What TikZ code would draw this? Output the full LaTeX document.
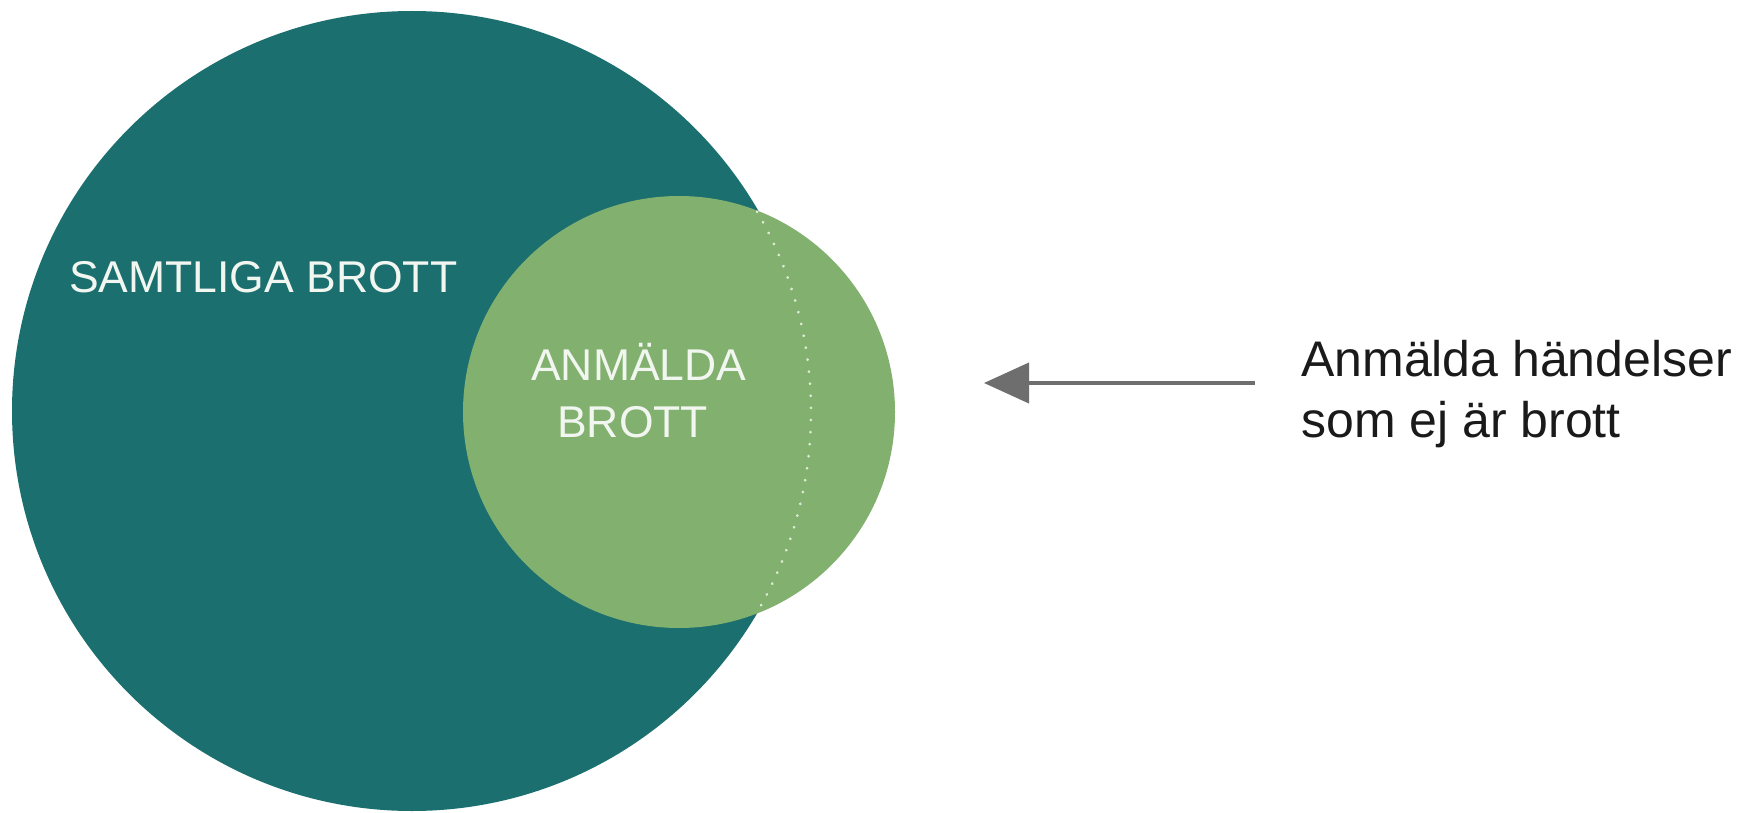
\documentclass[tikz,border=0pt]{standalone}
\usepackage{fontspec}
\setmainfont{Liberation Sans}
\usetikzlibrary{arrows.meta}
\definecolor{bigteal}{HTML}{1B6F6F}
\definecolor{smallgreen}{HTML}{82B06E}
\definecolor{arrowgray}{HTML}{6E6E6E}
\definecolor{dotcol}{HTML}{DCEBD5}
\definecolor{labelwhite}{HTML}{F2F6F0}
\definecolor{textblack}{HTML}{1A1A1A}
\tikzset{
  disc/.style={circle, inner sep=0pt, draw=none},
  inlabel/.style={anchor=base west, inner sep=0pt, text=labelwhite, font=\fontsize{44.5}{44.5}\selectfont},
  outlabel/.style={anchor=base west, inner sep=0pt, text=textblack, font=\fontsize{50}{50}\selectfont},
  pointer/.style={draw=arrowgray, line width=4pt, -{Triangle[length=45pt, width=40pt]}},
  boundary/.style={draw=dotcol, line width=3pt, line cap=round, dash pattern=on 0.1pt off 12pt}
}
\begin{document}
\begin{tikzpicture}[x=1pt, y=-1pt]
\useasboundingbox (0,0) rectangle (1743,813);
\fill[white] (0,0) rectangle (1743,813);
\node[disc, fill=bigteal, minimum size=800pt] (big) at (412,411) {};
\node[disc, fill=smallgreen, minimum size=432pt] (small) at (679,412) {};
\coordinate (itop) at (757.1,211.7);
\draw[boundary] (itop) arc[start angle=30.13, end angle=-30.13, radius=399pt];
\node[inlabel] (samtliga) at (69,292) {SAMTLIGA BROTT};
\node[inlabel] (anm1) at (531,380) {ANMÄLDA};
\node[inlabel] (anm2) at (557,437) {BROTT};
\coordinate (astart) at (1255,383);
\coordinate (atip) at (984,383);
\draw[pointer] (astart) -- (atip);
\node[outlabel] (out1) at (1301,376) {Anmälda händelser};
\node[outlabel] (out2) at (1301,437) {som ej är brott};
\end{tikzpicture}
\end{document}
